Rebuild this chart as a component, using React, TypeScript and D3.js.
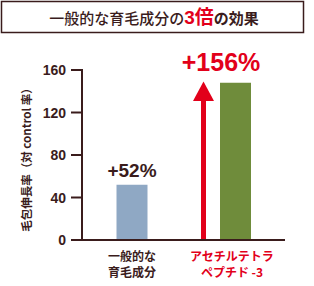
import React from "react";
import * as d3 from "d3";

const categories = ["一般的な\n育毛成分", "アセチルテトラ\nペプチド -3"];
const values = [52, 148];
const valueLabels = ["+52%", "+156%"];
const yTicks = [0, 40, 80, 120, 160];
const title1 = "一般的な育毛成分の";
const titleHL = "3倍";
const title2 = "の効果";
const yTitle = "毛包伸長率（対 control 率）";

const DARK = "#3a1c1c";
const RED = "#e2001a";
const barColors = ["#8fa8c4", "#6f8c3b"];
const labelColors = [DARK, RED];
const FONT = "'Liberation Sans', 'Noto Sans CJK JP', sans-serif";
const JFONT = "'Noto Sans CJK JP', 'Liberation Sans', sans-serif";

export default function App() {
  const y = d3.scaleLinear().domain([0, 160]).range([240, 70]);
  const centers = [132, 235.5];
  const barW = 31;
  const x0 = 82;
  const x1 = 285;
  const arrowX = 203.5;
  return (
    <svg width={314} height={286} style={{ position: "absolute", left: 0, top: 0 }}>
      <rect x={1.5} y={1.5} width={302} height={31} fill="#fff" stroke={DARK} strokeWidth={1.5} />
      <text x={154} y={24} textAnchor="middle" fontFamily={JFONT} fontSize={15} fill={DARK} fontWeight={500}>
        <tspan>{title1}</tspan>
        <tspan fill={RED} fontSize={19} fontWeight={700} fontFamily={FONT}>{titleHL}</tspan>
        <tspan fontWeight={700}>{title2}</tspan>
      </text>
      {/* y axis */}
      <line x1={x0} x2={x0} y1={y(160) - 1} y2={y(0)} stroke={DARK} strokeWidth={2} />
      {yTicks.map((t) => (
        <g key={t}>
          <line x1={71} x2={x0} y1={y(t)} y2={y(t)} stroke={DARK} strokeWidth={2} />
          <text x={66} y={y(t) + 5} textAnchor="end" fontFamily={FONT} fontWeight={700} fontSize={14} fill={DARK}>
            {t}
          </text>
        </g>
      ))}
      <text
        transform={`translate(31,157) rotate(-90)`}
        textAnchor="middle"
        fontFamily={JFONT}
        fontWeight={700}
        fontSize={11.5}
        fill={DARK}
      >
        {yTitle}
      </text>
      {/* bars */}
      {values.map((v, i) => (
        <rect key={i} x={centers[i] - barW / 2} y={y(v)} width={barW} height={y(0) - y(v)} fill={barColors[i]} />
      ))}
      {/* arrow */}
      <rect x={arrowX - 2.5} y={100} width={5} height={y(0) - 100} fill={RED} />
      <path d={`M${arrowX - 10.5},101 L${arrowX},81.5 L${arrowX + 10.5},101 Z`} fill={RED} />
      {/* x axis */}
      <line x1={x0 - 1} x2={x1} y1={y(0)} y2={y(0)} stroke={DARK} strokeWidth={2} />
      {/* value labels */}
      <text x={132} y={177} textAnchor="middle" fontFamily={FONT} fontWeight={700} fontSize={19} fill={DARK}>
        {valueLabels[0]}
      </text>
      <text x={221} y={71} textAnchor="middle" fontFamily={FONT} fontWeight={700} fontSize={25} fill={RED}>
        {valueLabels[1]}
      </text>
      {/* category labels */}
      {categories.map((c, i) => (
        <text key={i} textAnchor="middle" fontFamily={JFONT} fontWeight={700} fontSize={12} fill={labelColors[i]}>
          {c.split("\n").map((line, j) => (
            <tspan key={j} x={i === 0 ? 132 : 232} y={261 + j * 16}>
              {line}
            </tspan>
          ))}
        </text>
      ))}
    </svg>
  );
}
